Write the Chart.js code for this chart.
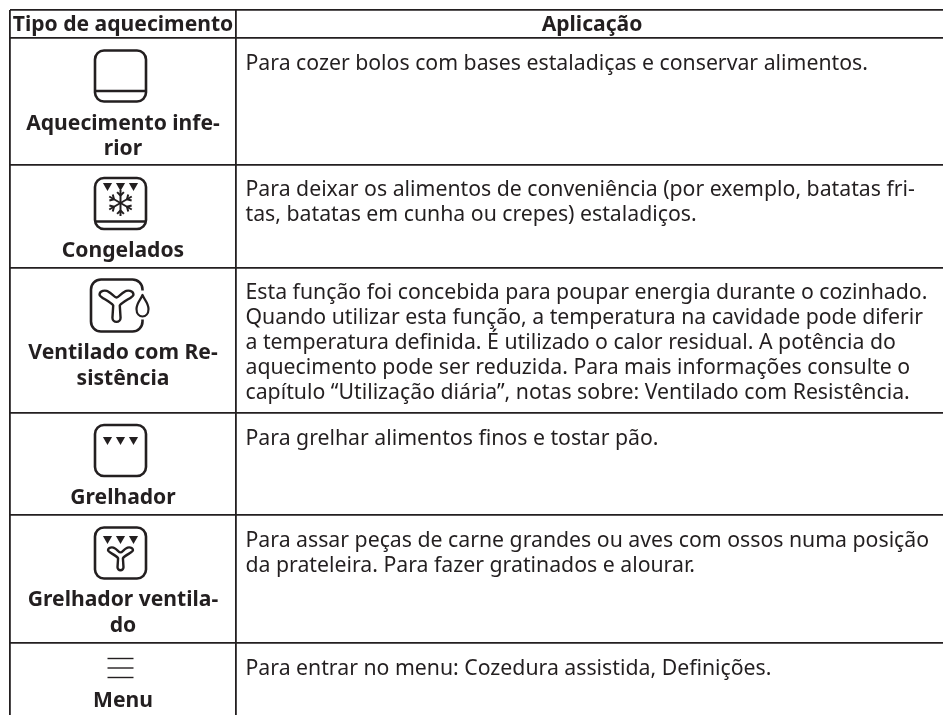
<!DOCTYPE html>
<html><head><meta charset="utf-8">
<style>html,body{margin:0;padding:0;background:#fff}#wrap{width:943px;height:715px}canvas{display:block}</style>
<script src="https://cdn.jsdelivr.net/npm/chart.js@4"></script></head>
<body><div id="wrap"><canvas id="c" width="943" height="715"></canvas></div>
<script>
const headers = ["Tipo de aquecimento", "Aplicação"];
const heatingTypes = [
  ["Aquecimento infe-", "rior"],
  ["Congelados"],
  ["Ventilado com Re-", "sistência"],
  ["Grelhador"],
  ["Grelhador ventila-", "do"],
  ["Menu"]
];
const applications = [
  ["Para cozer bolos com bases estaladiças e conservar alimentos."],
  ["Para deixar os alimentos de conveniência (por exemplo, batatas fri-", "tas, batatas em cunha ou crepes) estaladiços."],
  ["Esta função foi concebida para poupar energia durante o cozinhado.", "Quando utilizar esta função, a temperatura na cavidade pode diferir", "a temperatura definida. É utilizado o calor residual. A potência do", "aquecimento pode ser reduzida. Para mais informações consulte o", "capítulo “Utilização diária”, notas sobre: Ventilado com Resistência."],
  ["Para grelhar alimentos finos e tostar pão."],
  ["Para assar peças de carne grandes ou aves com ossos numa posição", "da prateleira. Para fazer gratinados e alourar."],
  ["Para entrar no menu: Cozedura assistida, Definições."]
];
const iconKinds = ["bottom", "frozen", "fanDrop", "grill", "grillFan", "menu"];
const rowEdges = [10, 37.5, 165, 268, 413, 515, 643];
const colEdges = [9.5, 236];
const tableRight = 943;

const INK = "#231f20";
function roundBox(ctx, x, y, w, h, r, lw) {
  ctx.lineWidth = lw; ctx.beginPath(); ctx.roundRect(x, y, w, h, r); ctx.stroke();
}
function tris(ctx, cx, y) {
  ctx.fillStyle = INK;
  [-13, 0, 13].forEach(d => {
    ctx.beginPath(); ctx.moveTo(cx + d - 4.6, y); ctx.lineTo(cx + d + 4.6, y); ctx.lineTo(cx + d, y + 8); ctx.closePath(); ctx.fill();
  });
}
function fan(ctx, cx, cy, s, lw) {
  ctx.lineWidth = lw; ctx.lineJoin = "round"; ctx.beginPath();
  ctx.moveTo(cx - 2.9 * s, cy - 1 * s);
  ctx.bezierCurveTo(cx - 6 * s, cy - 5 * s, cx - 15 * s, cy - 8 * s, cx - 15 * s, cy - 10.5 * s);
  ctx.bezierCurveTo(cx - 15 * s, cy - 14 * s, cx - 10 * s, cy - 15 * s, cx - 7 * s, cy - 13 * s);
  ctx.bezierCurveTo(cx - 4 * s, cy - 11.5 * s, cx - 2 * s, cy - 8 * s, cx, cy - 8 * s);
  ctx.bezierCurveTo(cx + 2 * s, cy - 8 * s, cx + 4 * s, cy - 11.5 * s, cx + 7 * s, cy - 13 * s);
  ctx.bezierCurveTo(cx + 10 * s, cy - 15 * s, cx + 15 * s, cy - 14 * s, cx + 15 * s, cy - 10.5 * s);
  ctx.bezierCurveTo(cx + 15 * s, cy - 8 * s, cx + 6 * s, cy - 5 * s, cx + 2.9 * s, cy - 1 * s);
  ctx.lineTo(cx + 3.6 * s, cy + 10 * s);
  ctx.arc(cx, cy + 10 * s, 3.6 * s, 0, Math.PI);
  ctx.closePath(); ctx.stroke();
}
const icons = {
  bottom(ctx, cx, cy) {
    roundBox(ctx, cx - 25.5, cy - 25.5, 51, 51, 9, 2.6);
    ctx.lineWidth = 2.4; ctx.beginPath(); ctx.moveTo(cx - 25.5, cy + 15); ctx.lineTo(cx + 25.5, cy + 15); ctx.stroke();
  },
  frozen(ctx, cx, cy) {
    roundBox(ctx, cx - 25.5, cy - 25.5, 51, 51, 9, 2.6);
    ctx.lineWidth = 2.4; ctx.beginPath(); ctx.moveTo(cx - 25.5, cy + 18); ctx.lineTo(cx + 25.5, cy + 18); ctx.stroke();
    tris(ctx, cx, cy - 20.5);
    const sy = cy - 0.5, R = 13;
    ctx.lineWidth = 2;
    for (let i = 0; i < 3; i++) {
      const a = Math.PI / 2 + i * Math.PI / 3;
      const dx = Math.cos(a), dy = Math.sin(a);
      ctx.beginPath(); ctx.moveTo(cx - dx * R, sy - dy * R); ctx.lineTo(cx + dx * R, sy + dy * R); ctx.stroke();
      [1, -1].forEach(k => {
        const ex = cx + k * dx * 7.5, ey = sy + k * dy * 7.5;
        [a + Math.PI / 4, a - Math.PI / 4].forEach(b => {
          ctx.beginPath(); ctx.moveTo(ex, ey); ctx.lineTo(ex + k * Math.cos(b) * 4.8, ey + k * Math.sin(b) * 4.8); ctx.stroke();
        });
      });
    }
  },
  fanDrop(ctx, cx, cy) {
    ctx.lineWidth = 2.6; ctx.beginPath();
    const l = cx - 29.5, r = cx + 22, t = cy - 26, b = cy + 26, rad = 10;
    ctx.moveTo(r, t + 11); ctx.arcTo(r, t, r - rad, t, rad); ctx.arcTo(l, t, l, t + rad, rad);
    ctx.arcTo(l, b, l + rad, b, rad); ctx.arcTo(r, b, r, b - rad, rad); ctx.lineTo(r, b - 12);
    ctx.stroke();
    fan(ctx, cx - 4, cy + 1, 1.13, 2.4);
    const dx = cx + 22, dt = cy - 10.5;
    ctx.lineWidth = 2.2; ctx.beginPath();
    ctx.moveTo(dx, dt);
    ctx.bezierCurveTo(dx + 2, dt + 5, dx + 6, dt + 8, dx + 6, dt + 14);
    ctx.bezierCurveTo(dx + 6, dt + 24, dx - 6, dt + 24, dx - 6, dt + 14);
    ctx.bezierCurveTo(dx - 6, dt + 8, dx - 2, dt + 5, dx, dt);
    ctx.closePath(); ctx.stroke();
  },
  grill(ctx, cx, cy) {
    roundBox(ctx, cx - 25.5, cy - 25.5, 51, 51, 9, 2.6);
    tris(ctx, cx, cy - 13.5);
  },
  grillFan(ctx, cx, cy) {
    roundBox(ctx, cx - 25.5, cy - 25.5, 51, 51, 9, 2.6);
    tris(ctx, cx, cy - 17);
    fan(ctx, cx, cy + 6, 0.83, 2.4);
  },
  menu(ctx, cx, cy) {
    ctx.lineWidth = 1.4;
    [-9.5, 0, 9.5].forEach(d => { ctx.beginPath(); ctx.moveTo(cx - 13, cy + d); ctx.lineTo(cx + 13, cy + d); ctx.stroke(); });
  }
};
const iconOffset = [38.5, 38.5, 37.5, 37.5, 38, 25];
const labelOffset = [86.3, 86.3, 85.3, 85.3, 85.3, 58];
const bodyFirst = [26, 25, 25, 25.5, 25.5, 26];
const LINE = 25;
const LABEL_LINE = 25.5;

const tablePlugin = {
  id: "tablePlugin",
  afterDatasetsDraw(chart) {
    const { ctx, scales: { x, y } } = chart;
    const cx = x.getPixelForValue((colEdges[0] + colEdges[1]) / 2) + 0.25;
    const ax = x.getPixelForValue(colEdges[1]) + 9.5;
    ctx.save();
    ctx.fillStyle = INK; ctx.strokeStyle = INK; ctx.textBaseline = "middle"; ctx.textAlign = "center";
    ctx.font = "bold 21.1px 'Noto Sans'";
    const hy = y.getPixelForValue((rowEdges[0] + rowEdges[1]) / 2) + 1.5;
    ctx.fillText(headers[0], cx, hy);
    ctx.fillText(headers[1], x.getPixelForValue((colEdges[1] + tableRight) / 2) + 2.5, hy);
    heatingTypes.forEach((lines, i) => {
      const top = y.getPixelForValue(rowEdges[i + 1]);
      ctx.strokeStyle = INK;
      icons[iconKinds[i]](ctx, cx - 2.5, top + iconOffset[i]);
      ctx.fillStyle = INK; ctx.textAlign = "center"; ctx.font = "bold 21.1px 'Noto Sans'";
      lines.forEach((t, k) => ctx.fillText(t, cx, top + labelOffset[i] + k * LABEL_LINE));
      ctx.textAlign = "left"; ctx.font = "21.25px 'Noto Sans'";
      applications[i].forEach((t, k) => ctx.fillText(t, ax, top + bodyFirst[i] + k * LINE));
    });
    ctx.restore();
  }
};

new Chart(document.getElementById("c"), {
  type: "scatter",
  data: { datasets: [{
    label: headers[0],
    data: heatingTypes.map((_, i) => ({ x: colEdges[0], y: rowEdges[i + 1] })),
    pointRadius: 0
  }] },
  options: {
    responsive: false, animation: false,
    layout: { padding: { left: 9.5, top: 10, right: 0, bottom: 0 } },
    plugins: { legend: { display: false }, tooltip: { enabled: false }, title: { display: false } },
    scales: {
      x: {
        type: "linear", min: colEdges[0], max: tableRight,
        afterBuildTicks(s) { s.ticks = colEdges.map(value => ({ value })); },
        grid: { color: INK, lineWidth: 1.8, drawTicks: false }, border: { display: false },
        ticks: { display: false }
      },
      y: {
        type: "linear", reverse: true, min: rowEdges[0], max: 715,
        afterBuildTicks(s) { s.ticks = rowEdges.map(value => ({ value })); },
        grid: { color: INK, lineWidth: 1.8, drawTicks: false }, border: { display: false },
        ticks: { display: false }
      }
    }
  },
  plugins: [tablePlugin]
});
</script></body></html>
